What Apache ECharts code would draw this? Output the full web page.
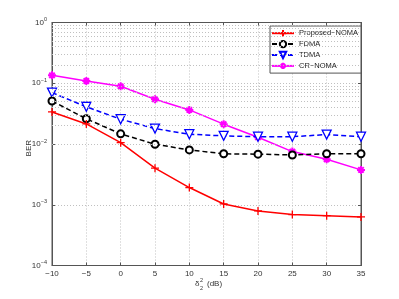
<!DOCTYPE html>
<html><head><meta charset="utf-8">
<script src="https://cdn.jsdelivr.net/npm/echarts@6/dist/echarts.min.js"></script>
<style>html,body{margin:0;padding:0;background:#fff}#c{width:399px;height:299px}</style>
</head><body><div id="c"></div>
<script>
const xValues = [-10, -5, 0, 5, 10, 15, 20, 25, 30, 35];
const proposedNOMA = [0.0337, 0.0214, 0.0105, 0.0040, 0.00192, 0.00103, 0.00079, 0.00069, 0.00066, 0.00063];
const fdma = [0.051, 0.026, 0.0147, 0.0099, 0.0080, 0.0069, 0.0068, 0.0066, 0.0069, 0.0069];
const tdma = [0.070, 0.041, 0.0256, 0.0179, 0.0145, 0.0136, 0.0132, 0.0132, 0.0143, 0.0132];
const crNOMA = [0.135, 0.109, 0.089, 0.0546, 0.0364, 0.0212, 0.0129, 0.0075, 0.0056, 0.00375];
const seriesNames = ['Proposed\u2212NOMA', 'FDMA', 'TDMA', 'CR\u2212NOMA'];
const xTicks = { min: -10, max: 35, interval: 5 };
const yRange = { min: 1e-4, max: 1 };

const minorVals = [];
for (let n = -4; n <= -1; n++) for (let k = 2; k <= 9; k++) minorVals.push(k * Math.pow(10, n));

const pair = arr => xValues.map((x, i) => [x, arr[i]]);
const plusSym = 'path://M5 0L5 10M0 5L10 5';
const astSym = 'path://M5 0L5 10M0 5L10 5M1.6 1.6L8.4 8.4M8.4 1.6L1.6 8.4';
const triSym = 'path://M0 0L10 0L5 9Z';

const chart = echarts.init(document.getElementById('c'), null, { renderer: 'canvas' });
const font = 'Liberation Sans, Arial, sans-serif';
const gridLine = { show: true, lineStyle: { color: '#c0c0c0', type: [1, 2], width: 1 } };
const axLine = { show: true, onZero: false, lineStyle: { color: '#555' } };
const axTick = { inside: true, length: 3, lineStyle: { color: '#555' } };

chart.setOption({
  animation: false,
  textStyle: { fontFamily: font },
  grid: { left: 52, right: 38, top: 22.5, bottom: 33.5, show: true, borderColor: '#555', borderWidth: 1 },
  legend: {
    data: seriesNames, orient: 'vertical', left: 270, top: 26,
    backgroundColor: '#fff', borderColor: '#555', borderWidth: 1,
    padding: [3, 3, 3, 1], itemGap: 2.5, itemWidth: 22, itemHeight: 8,
    textStyle: { fontSize: 7.5, color: '#222', fontFamily: font }
  },
  xAxis: [{
    type: 'value', min: xTicks.min, max: xTicks.max, interval: xTicks.interval,
    axisLine: axLine, axisTick: axTick,
    axisLabel: { fontSize: 8, color: '#333', margin: 4, formatter: v => (v < 0 ? '\u2212' + (-v) : '' + v) },
    splitLine: gridLine
  }, {
    type: 'value', position: 'top', min: xTicks.min, max: xTicks.max, interval: xTicks.interval,
    axisLine: axLine, axisTick: axTick,
    axisLabel: { show: false }, splitLine: { show: false }
  }],
  yAxis: [{
    type: 'log', min: yRange.min, max: yRange.max, logBase: 10,
    axisLine: axLine, axisTick: axTick,
    axisLabel: {
      fontSize: 8, color: '#333', margin: 5,
      formatter: v => '10{s|' + String(Math.round(Math.log10(v))).replace('-', '\u2212') + '}',
      rich: { s: { fontSize: 5.5, color: '#333', padding: [0, 0, 6, 0] } }
    },
    splitLine: gridLine
  }, {
    type: 'log', position: 'right', min: yRange.min, max: yRange.max, logBase: 10,
    axisLine: axLine, axisTick: axTick,
    axisLabel: { show: false }, splitLine: { show: false }
  }],
  graphic: [
    { type: 'text', left: 25, top: 140, rotation: Math.PI / 2, style: { text: 'BER', font: '8px ' + font, fill: '#333' } },
    { type: 'text', x: 195, y: 280, style: { text: '\u03b4', font: '8px ' + font, fill: '#333' } },
    { type: 'text', x: 200, y: 277, style: { text: '2', font: '5.5px ' + font, fill: '#333' } },
    { type: 'text', x: 200, y: 285, style: { text: '2', font: '5.5px ' + font, fill: '#333' } },
    { type: 'text', x: 207, y: 280, style: { text: '(dB)', font: '8px ' + font, fill: '#333' } }
  ],
  series: [
    {
      name: 'minor', type: 'line', data: [], z: 1, silent: true,
      markLine: {
        silent: true, symbol: 'none', label: { show: false }, animation: false,
        lineStyle: { color: '#c0c0c0', type: [1, 2], width: 1 },
        data: minorVals.map(v => ({ yAxis: v }))
      }
    },
    {
      name: seriesNames[0], type: 'line', data: pair(proposedNOMA), z: 5,
      symbol: plusSym, symbolSize: 8,
      lineStyle: { color: '#ff0000', width: 1.5 },
      itemStyle: { color: '#ff0000', borderColor: '#ff0000', borderWidth: 1.3 }
    },
    {
      name: seriesNames[1], type: 'line', data: pair(fdma), z: 4,
      symbol: 'emptyCircle', symbolSize: 7,
      lineStyle: { color: '#000', width: 1.5, type: [5, 3] },
      itemStyle: { color: '#000', borderColor: '#000', borderWidth: 1.3 }
    },
    {
      name: seriesNames[2], type: 'line', data: pair(tdma), z: 3,
      symbol: triSym, symbolSize: 9,
      lineStyle: { color: '#0000ff', width: 1.5, type: [5, 3] },
      itemStyle: { color: '#fff', borderColor: '#0000ff', borderWidth: 1.3 }
    },
    {
      name: seriesNames[3], type: 'line', data: pair(crNOMA), z: 2,
      symbol: astSym, symbolSize: 8,
      lineStyle: { color: '#ff00ff', width: 1.5 },
      itemStyle: { color: '#ff00ff', borderColor: '#ff00ff', borderWidth: 2 }
    }
  ]
});
</script></body></html>
